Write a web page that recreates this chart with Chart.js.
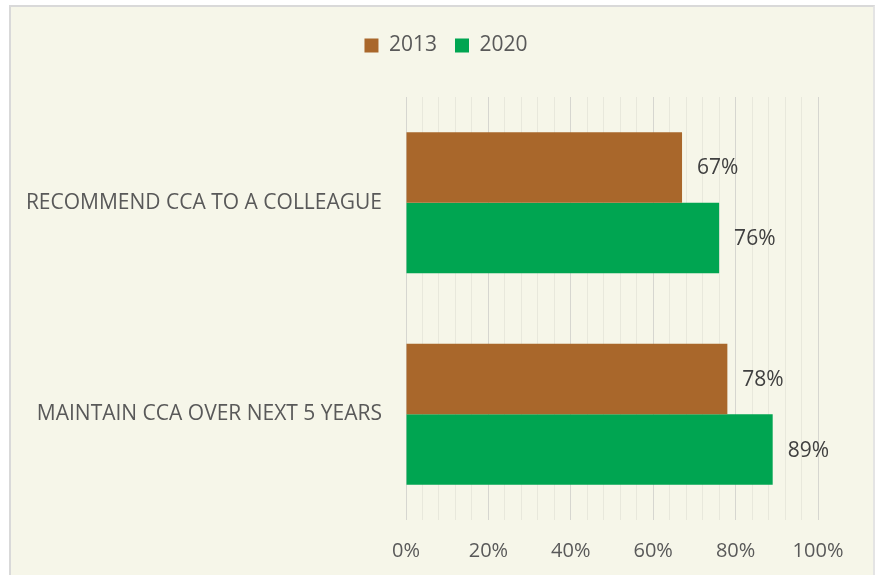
<!DOCTYPE html>
<html>
<head>
<meta charset="utf-8">
<script src="https://cdn.jsdelivr.net/npm/chart.js@4.4.1/dist/chart.umd.min.js"></script>
<style>
	html, body { margin: 0; padding: 0; background: #ffffff; }
	#frame {
		position: absolute; left: 9px; top: 5px; width: 862px; height: 568px;
		background: #f6f6e9; border: 2px solid #d9d9d9; border-right-color: #e4e4e4; border-bottom: none;
	}
	#wrap { position: absolute; left: 0; top: 0; width: 877px; height: 578px; }
</style>
</head>
<body>
<div id="frame"></div>
<div id="wrap"><canvas id="surveyChart" width="877" height="578"></canvas></div>
<script>
var categories = ['RECOMMEND CCA TO A COLLEAGUE', 'MAINTAIN CCA OVER NEXT 5 YEARS'];
var seriesNames = ['2013', '2020'];
var values2013 = [67, 78];
var values2020 = [76, 89];
var seriesColors = ['#a9672b', '#00a551'];

var fontFamily = '"Open Sans", "Noto Sans", sans-serif';

// writes "NN%" just past the end of each bar
var barValueLabels = {
	id: 'barValueLabels',
	afterDatasetsDraw: function (chart) {
		var ctx = chart.ctx;
		ctx.save();
		ctx.font = '21px ' + fontFamily;
		ctx.fillStyle = '#404040';
		ctx.textAlign = 'left';
		ctx.textBaseline = 'middle';
		chart.data.datasets.forEach(function (dataset, i) {
			var meta = chart.getDatasetMeta(i);
			meta.data.forEach(function (bar, j) {
				ctx.fillText(dataset.data[j] + '%', bar.x + 15, bar.y + 1);
			});
		});
		ctx.restore();
	}
};

// pushes the plot area down below the legend and centres the legend over the whole frame
var legendSpacer = {
	id: 'legendSpacer',
	beforeInit: function (chart) {
		var originalFit = chart.legend.fit;
		chart.legend.fit = function () {
			originalFit.bind(chart.legend)();
			this.height += 31;
		};
	},
	afterLayout: function (chart) {
		chart.legend.left = 74;
	}
};

var data = {
	'labels': categories,
	'datasets': [
		{ 'label': seriesNames[0], 'data': values2013, 'backgroundColor': seriesColors[0] },
		{ 'label': seriesNames[1], 'data': values2020, 'backgroundColor': seriesColors[1] }
	]
};

var options = {
	'indexAxis': 'y',
	'responsive': false,
	'animation': false,
	'layout': { 'padding': { 'left': 0, 'right': 59, 'top': 17, 'bottom': 0 } },
	'datasets': { 'bar': { 'categoryPercentage': 0.667, 'barPercentage': 1.0 } },
	'plugins': {
		'legend': {
			'position': 'top',
			'labels': {
				'boxWidth': 14, 'boxHeight': 14, 'padding': 18,
				'color': '#595959',
				'font': { 'family': fontFamily, 'size': 21 }
			}
		},
		'tooltip': { 'enabled': false }
	},
	'scales': {
		'x': {
			'min': 0, 'max': 100,
			'border': { 'display': false },
			'grid': {
				'drawTicks': false,
				'color': function (c) { return c.tick && c.tick.value % 20 === 0 ? '#d6d6d0' : '#e8e8dc'; }
			},
			'ticks': {
				'stepSize': 4, 'autoSkip': false, 'maxRotation': 0, 'padding': 19,
				'color': '#595959',
				'font': { 'family': fontFamily, 'size': 20 },
				'callback': function (v) { return v % 20 === 0 ? v + '%' : ''; }
			},
			'afterFit': function (scale) { scale.height = 58; }
		},
		'y': {
			'border': { 'display': false },
			'grid': { 'display': false, 'drawTicks': false },
			'ticks': {
				'padding': 24, 'autoSkip': false,
				'color': '#595959',
				'font': { 'family': fontFamily, 'size': 21 }
			},
			'afterFit': function (scale) { scale.width = 406; }
		}
	}
};

var config = {
	'type': 'bar',
	'data': data,
	'options': options,
	'plugins': [barValueLabels, legendSpacer]
};

var surveyChart = new Chart(document.getElementById('surveyChart'), config);
</script>
</body>
</html>
